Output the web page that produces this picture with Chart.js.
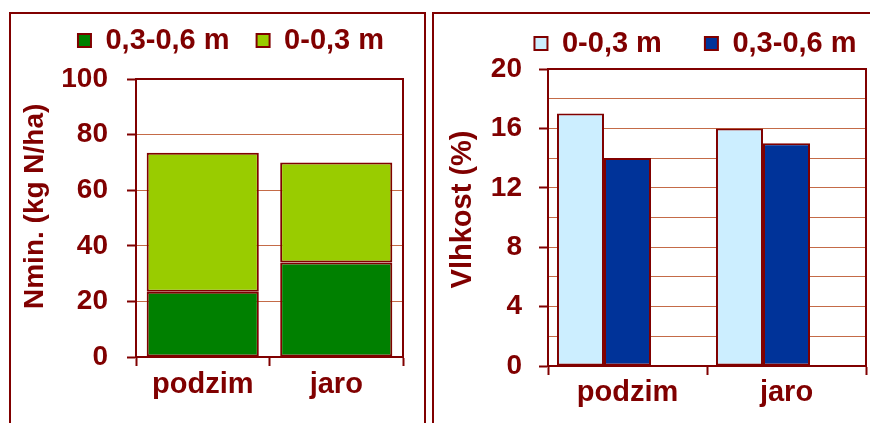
<!DOCTYPE html>
<html>
<head>
<meta charset="utf-8">
<script src="https://cdn.jsdelivr.net/npm/chart.js@4/dist/chart.umd.min.js"></script>
<style>
  html, body { margin: 0; padding: 0; background: #fff; width: 870px; height: 423px; overflow: hidden; position: relative; }
  .panel { position: absolute; border: 2px solid #800000; box-sizing: border-box; }
  #p1 { left: 9px; top: 12px; width: 417px; height: 460px; }
  #p2 { left: 432px; top: 12px; width: 500px; height: 460px; }
  canvas { position: absolute; }
  #c1 { left: 11px; top: -1px; }
  #c2 { left: 435px; top: -14px; }
</style>
</head>
<body>
<div class="panel" id="p1"></div>
<div class="panel" id="p2"></div>
<canvas id="c1" width="413" height="424"></canvas>
<canvas id="c2" width="435" height="437"></canvas>
<script>
// Seasons
const seasons = ['podzim', 'jaro'];

// Mineral nitrogen (kg N/ha) by soil layer
const nminDeep = [23.5, 34];   // 0,3-0,6 m
const nminTop = [50, 36];      // 0-0,3 m
const nminTicks = [0, 20, 40, 60, 80, 100];

// Soil moisture (%) by soil layer
const moistTop = [17, 16];     // 0-0,3 m
const moistDeep = [14, 15];    // 0,3-0,6 m
const moistTicks = [0, 4, 8, 12, 16, 20];

const DARK = '#800000';
const GRID = '#c46b47';
const FONT = 'Liberation Sans, Arial, sans-serif';

Chart.defaults.font.family = FONT;
Chart.defaults.font.weight = 'bold';
Chart.defaults.color = DARK;

// Frame around the plotting area
const plotFrame = {
  id: 'plotFrame',
  afterDatasetsDraw(chart) {
    const { ctx, chartArea: a } = chart;
    ctx.save();
    ctx.strokeStyle = DARK;
    ctx.lineWidth = 2;
    ctx.strokeRect(a.left, a.top, a.right - a.left, a.bottom - a.top);
    ctx.restore();
  }
};

// Fixed legend band height and horizontal offset
const legendPlacement = {
  id: 'legendPlacement',
  beforeLayout(chart, args, opts) {
    const lg = chart.legend;
    if (lg && !lg._fixedFit) {
      const fit = lg.fit;
      lg.fit = function () { fit.call(this); this.height = opts.height; };
      lg._fixedFit = true;
    }
  },
  afterLayout(chart, args, opts) {
    const lg = chart.legend;
    if (!lg) return;
    lg.left += opts.dx;
    lg.right += opts.dx;
    (lg.legendHitBoxes || []).forEach(b => { b.left += opts.dx; });
  }
};

function gridColor(max) {
  return c => (c.tick && (c.tick.value === 0 || c.tick.value === max)) ? DARK : GRID;
}

function xScale(height, pad) {
  return {
    stacked: false,
    grid: { display: true, drawOnChartArea: false, drawTicks: true, tickLength: 9, tickColor: DARK, tickWidth: 2, offset: true },
    border: { color: DARK, width: 2 },
    ticks: { color: DARK, font: { size: 29, weight: 'bold' }, padding: pad },
    afterFit: s => { s.height = height; }
  };
}

// Left: stacked mineral nitrogen
new Chart(document.getElementById('c1'), {
  type: 'bar',
  data: {
    labels: seasons,
    datasets: [
      { label: '0,3-0,6 m', data: nminDeep, backgroundColor: '#008000', borderColor: DARK, borderWidth: 2, borderSkipped: false },
      { label: '0-0,3 m', data: nminTop, backgroundColor: '#99cc00', borderColor: DARK, borderWidth: 2, borderSkipped: false }
    ]
  },
  options: {
    responsive: false,
    animation: false,
    categoryPercentage: 0.84,
    barPercentage: 1,
    layout: { padding: { left: 0, right: 21, top: 0, bottom: 0 } },
    plugins: {
      legend: {
        position: 'top',
        labels: { boxWidth: 13, boxHeight: 13, padding: 27, color: DARK, font: { size: 29, weight: 'bold' } }
      },
      tooltip: { enabled: false },
      legendPlacement: { dx: 24, height: 80 }
    },
    scales: {
      x: Object.assign(xScale(66, 2), { stacked: true }),
      y: {
        stacked: true,
        min: nminTicks[0],
        max: nminTicks[nminTicks.length - 1],
        ticks: { stepSize: 20, padding: 19, autoSkip: false, font: { size: 28, weight: 'bold' }, color: DARK },
        grid: { color: gridColor(100), lineWidth: 1, tickLength: 9, tickColor: DARK, tickWidth: 2 },
        border: { color: DARK, width: 2 },
        title: { display: true, text: '   Nmin. (kg N/ha)', color: DARK, font: { size: 28, weight: 'bold' }, padding: { top: 7, bottom: 0 } },
        afterFit: s => { s.width = 125; }
      }
    }
  },
  plugins: [plotFrame, legendPlacement]
});

// Right: grouped soil moisture
new Chart(document.getElementById('c2'), {
  type: 'bar',
  data: {
    labels: seasons,
    datasets: [
      { label: '0-0,3 m', data: moistTop, backgroundColor: '#cceeff', borderColor: DARK, borderWidth: 2, borderSkipped: false },
      { label: '0,3-0,6 m', data: moistDeep, backgroundColor: '#003399', borderColor: DARK, borderWidth: 2, borderSkipped: false },
      // empty third slot in each group
      { label: '', data: [null, null], backgroundColor: 'rgba(0,0,0,0)', borderWidth: 0 }
    ]
  },
  options: {
    responsive: false,
    animation: false,
    categoryPercentage: 0.887,
    barPercentage: 1,
    layout: { padding: { left: 0, right: 4, top: 0, bottom: 0 } },
    plugins: {
      legend: {
        position: 'top',
        labels: {
          boxWidth: 13, boxHeight: 13, padding: 43, color: DARK, font: { size: 29, weight: 'bold' },
          filter: item => item.text !== ''
        }
      },
      tooltip: { enabled: false },
      legendPlacement: { dx: 45, height: 83 }
    },
    scales: {
      x: xScale(57, 1),
      y: {
        min: moistTicks[0],
        max: moistTicks[moistTicks.length - 1],
        ticks: {
          stepSize: 2, padding: 17, autoSkip: false, color: DARK, font: { size: 28, weight: 'bold' },
          callback: v => moistTicks.includes(v) ? String(v) : ''
        },
        grid: {
          color: gridColor(20), lineWidth: 1, tickLength: 9, tickWidth: 2,
          tickColor: c => (c.tick && moistTicks.includes(c.tick.value)) ? DARK : 'rgba(0,0,0,0)'
        },
        border: { color: DARK, width: 2 },
        title: { display: true, text: '  Vlhkost (%)', color: DARK, font: { size: 29, weight: 'bold' }, padding: { top: 11, bottom: 0 } },
        afterFit: s => { s.width = 113; }
      }
    }
  },
  plugins: [plotFrame, legendPlacement]
});
</script>
</body>
</html>
